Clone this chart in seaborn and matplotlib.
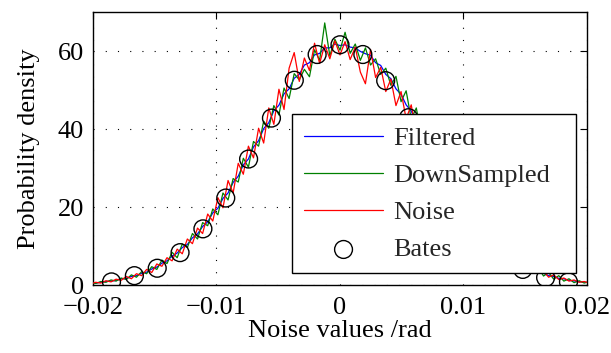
import numpy as np
import pandas as pd
import matplotlib
matplotlib.use("Agg")
import matplotlib.pyplot as plt
import seaborn as sns

# ---- data ----
x_min, x_max = -0.02, 0.02
hist_min, hist_max = -0.0206, 0.0206
n_bins = 101

filtered = [0.3, 0.5, 0.5, 0.7, 0.9, 1.0, 1.2, 1.6, 1.7, 2.2, 2.4, 3.0, 3.3, 4.1, 4.6, 5.6, 6.2, 7.4, 8.2, 9.6,
            10.4, 12.1, 13.1, 15.0, 16.2, 18.5, 19.7, 22.2, 23.6, 26.3, 27.9, 30.8, 32.3, 35.4, 37.0, 40.1, 41.6,
            44.7, 46.1, 49.0, 50.3, 53.0, 54.0, 56.4, 57.0, 59.0, 59.4, 60.8, 60.8, 61.8, 61.4,
            61.6, 61.0, 60.8, 59.9, 59.3, 58.9, 57.0, 56.3, 54.0, 52.9, 50.3, 48.9, 46.2, 44.6, 41.7, 40.0, 37.1,
            35.3, 32.4, 30.7, 27.9, 26.3, 23.6, 22.2, 19.7, 18.5, 16.1, 15.1, 13.0, 12.1, 10.4, 9.6, 8.1, 7.5, 6.2,
            5.6, 4.6, 4.1, 3.3, 3.0, 2.4, 2.2, 1.7, 1.6, 1.2, 1.05, 0.85, 0.75, 0.6, 0.6]

downsampled = [0.2, 0.6, 0.4, 0.9, 0.7, 1.3, 1.0, 1.8, 1.4, 2.6, 2.0, 3.4, 2.9, 4.7, 4.0, 6.4, 5.5, 8.4, 7.0, 10.5,
               9.6, 13.2, 11.8, 16.0, 15.2, 19.5, 18.0, 23.6, 21.8, 27.3, 26.4, 32.5, 30.2, 36.8, 35.6, 42.0, 40.2,
               46.0, 43.6, 50.5, 47.8, 54.2, 52.6, 55.3, 53.4, 60.3, 57.6, 67.2, 58.8, 63.0, 60.2,
               64.8, 59.4, 61.8, 57.6, 60.8, 56.4, 58.0, 54.0, 55.6, 51.2, 53.5, 47.0, 49.8, 42.6, 45.4, 38.3, 41.2,
               33.6, 36.4, 29.0, 31.4, 25.2, 27.2, 21.4, 23.6, 17.6, 19.8, 14.2, 16.3, 11.2, 12.8, 8.6, 10.0, 6.4,
               7.6, 4.8, 5.8, 3.4, 4.4, 2.3, 3.2, 1.5, 2.4, 1.0, 1.6, 0.6, 1.1, 0.5, 0.9, 1.2]

noise = [0.5, 0.3, 0.7, 0.5, 1.1, 0.8, 1.5, 1.2, 2.2, 1.6, 2.9, 2.4, 4.0, 3.2, 5.4, 4.8, 7.0, 6.2, 9.2, 8.0,
         11.8, 10.6, 14.6, 13.2, 18.2, 16.4, 22.4, 19.8, 26.8, 23.6, 31.2, 28.4, 35.6, 32.6, 40.2, 36.4, 45.4,
         41.2, 50.2, 45.0, 55.6, 59.6, 52.2, 58.2, 55.0, 62.0, 56.8, 61.6, 58.0, 62.6, 59.0,
         62.4, 57.8, 61.0, 54.6, 51.6, 60.4, 53.2, 55.8, 49.6, 52.8, 46.0, 49.6, 42.6, 46.2, 39.0, 42.4, 35.2,
         37.6, 31.0, 33.2, 26.8, 28.6, 22.6, 24.8, 19.0, 20.8, 15.6, 17.2, 12.4, 14.0, 9.8, 11.0, 7.4, 8.6,
         5.6, 6.6, 4.0, 5.0, 3.0, 3.6, 2.0, 2.6, 1.4, 1.8, 1.0, 1.3, 0.7, 0.9, 0.5, 0.4]

bates_x = [-0.0185, -0.01665, -0.0148, -0.01295, -0.0111, -0.00925, -0.0074, -0.00555, -0.0037, -0.00185, 0.0,
           0.00185, 0.0037, 0.00555, 0.0074, 0.00925, 0.0111, 0.01295, 0.0148, 0.01665, 0.0185]
bates_y = [0.8, 2.4, 4.3, 8.3, 14.4, 22.3, 32.3, 42.8, 52.5, 59.1, 61.6,
           59.1, 52.4, 42.9, 32.3, 22.3, 14.4, 8.3, 4.0, 1.9, 0.8]

xticks = [-0.02, -0.01, 0.0, 0.01, 0.02]
xtick_labels = ["\u22120.02", "\u22120.01", "0", "0.01", "0.02"]
yticks = [0, 20, 40, 60]

x_vals = np.linspace(hist_min, hist_max, n_bins)

# ---- style ----
sns.set_theme(style="white")
plt.rcParams["font.family"] = ["Liberation Serif", "DejaVu Serif"]
plt.rcParams["axes.unicode_minus"] = True

fig = plt.figure(figsize=(6.11, 3.53), dpi=100)
ax = fig.add_axes([0.1522, 0.1926, 0.8085, 0.7734])

lw = 0.9
sns.lineplot(x=x_vals, y=filtered, color="#0000ff", lw=lw, label="Filtered", ax=ax, sort=False, zorder=3)
sns.lineplot(x=x_vals, y=downsampled, color="#008000", lw=lw, label="DownSampled", ax=ax, sort=False, zorder=3)
sns.lineplot(x=x_vals, y=noise, color="#ff0000", lw=lw, label="Noise", ax=ax, sort=False, zorder=3)
sns.scatterplot(x=bates_x, y=bates_y, marker="o", s=165, facecolor="none", edgecolor="black",
                linewidth=1.0, label="Bates", ax=ax, zorder=5)

ax.set_xlim(x_min, x_max)
ax.set_ylim(0, 70)
ax.set_xticks(xticks)
ax.set_xticklabels(xtick_labels)
ax.set_yticks(yticks)

ax.grid(True, color="black", linestyle=(0, (1, 10)), linewidth=0.8)
ax.set_axisbelow(True)
for sp in ax.spines.values():
    sp.set_color("black")
    sp.set_linewidth(1.0)
ax.tick_params(direction="in", top=True, right=True, length=5, width=0.8,
               labelsize=19, colors="black")
ax.tick_params(axis="x", pad=8.5)
ax.tick_params(axis="y", pad=6.5)
for lbl in ax.get_yticklabels():
    lbl.set_verticalalignment("center_baseline")

ax.set_xlabel("Noise values /rad", fontsize=19, color="black", labelpad=1)
ax.set_ylabel("Probability density", fontsize=19, color="black", labelpad=13)

leg = ax.legend(loc="lower left", bbox_to_anchor=(0.403, 0.043, 0.575, 0.58), mode="expand",
                borderaxespad=0, fontsize=19, handlelength=3.0, handletextpad=0.4,
                labelspacing=0.52, borderpad=0.45, scatterpoints=1, fancybox=False,
                framealpha=1, edgecolor="black")
leg.get_frame().set_linewidth(1.0)

fig.savefig("out.png", dpi=100)
